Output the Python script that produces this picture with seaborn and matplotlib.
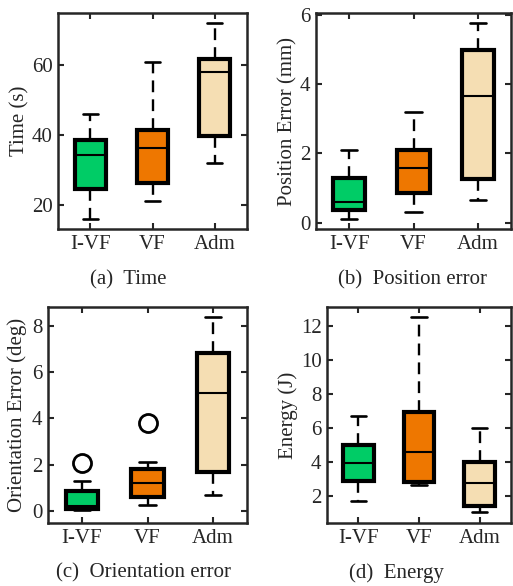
import pandas as pd
import numpy as np
import matplotlib
matplotlib.use('Agg')
import matplotlib.pyplot as plt
import seaborn as sns

sns.set_style('ticks')
plt.rcParams['font.family'] = ['Liberation Serif', 'DejaVu Serif']

methods = ['I-VF', 'VF', 'Adm']
colors = ['#00CC66', '#EE7700', '#F5DEB3']

time_vals = [
    [16.0, 24.6, 34.1, 38.6, 45.9],
    [21.0, 26.2, 36.2, 41.4, 61.0],
    [31.9, 39.8, 58.1, 61.9, 72.0],
]
pos_vals = [
    [0.12, 0.36, 0.60, 1.29, 2.09],
    [0.30, 0.86, 1.58, 2.11, 3.19],
    [0.66, 1.27, 3.67, 4.99, 5.76],
]
ori_vals = [
    [0.04, 0.11, 0.11, 0.24, 0.24, 0.86, 0.86, 1.29, 2.07],
    [0.29, 0.60, 0.60, 1.24, 1.24, 1.81, 1.81, 2.11, 3.81],
    [0.71, 1.71, 5.10, 6.81, 8.36],
]
energy_vals = [
    [1.67, 2.88, 3.92, 5.00, 6.67],
    [2.65, 2.80, 4.59, 6.90, 12.49],
    [1.02, 1.41, 2.78, 3.96, 6.00],
]

ylabels = ['Time (s)', 'Position Error (mm)', 'Orientation Error (deg)', 'Energy (J)']
captions = ['(a)  Time', '(b)  Position error', '(c)  Orientation error', '(d)  Energy']
yticks = [[20, 40, 60], [0, 2, 4, 6], [0, 2, 4, 6, 8], [2, 4, 6, 8, 10, 12]]
ylims = [(13, 75), (-0.18, 6.05), (-0.5, 8.8), (0.4, 13.1)]


def to_frame(vals):
    rows = []
    for m, v in zip(methods, vals):
        for x in v:
            rows.append((m, x))
    return pd.DataFrame(rows, columns=['method', 'value'])


W, H = 513, 586
fig = plt.figure(figsize=(W / 100, H / 100), dpi=100)

# axes boxes in pixels: left, top, right, bottom
boxes = [(58, 13, 247, 229), (316, 13, 511, 229), (48, 307, 247, 523), (327, 307, 511, 523)]
label_x = [29, 297, 27, 298]   # right edge of the rotated y label
cap_pos = [(128, 280), (413, 280), (144, 573), (396, 573)]
fs = 15

data = [time_vals, pos_vals, ori_vals, energy_vals]
for i in range(4):
    l, t, r, b = boxes[i]
    ax = fig.add_axes([l / W, 1 - b / H, (r - l) / W, (b - t) / H])
    df = to_frame(data[i])
    sns.boxplot(data=df, x='method', y='value', hue='method', order=methods,
                hue_order=methods, palette=colors, saturation=1, legend=False,
                width=0.5, linecolor='black', linewidth=3.0, fliersize=13, ax=ax,
                whiskerprops=dict(linestyle=(0, (5, 3)), linewidth=1.7),
                capprops=dict(linewidth=1.9),
                medianprops=dict(linewidth=1.5, color='black'),
                flierprops=dict(marker='o', markerfacecolor='none',
                                markeredgecolor='black', markeredgewidth=2))
    ax.set_xlim(-0.52, 2.52)
    ax.set_ylim(*ylims[i])
    ax.set_yticks(yticks[i])
    ax.set_xlabel('')
    ax.set_ylabel(ylabels[i], fontsize=fs, color='#262626')
    ax.yaxis.set_label_coords((label_x[i] - l) / (r - l), 0.5)
    ax.tick_params(direction='in', top=True, right=True, length=4, width=1.5,
                   labelsize=fs, labelcolor='#262626', pad=4)
    for s in ax.spines.values():
        s.set_linewidth(1.8)
        s.set_color('#262626')
    cx, cy = cap_pos[i]
    fig.text(cx / W, 1 - cy / H, captions[i], ha='center', va='center',
             fontsize=fs, color='#262626')

fig.savefig('out.png', dpi=100)
